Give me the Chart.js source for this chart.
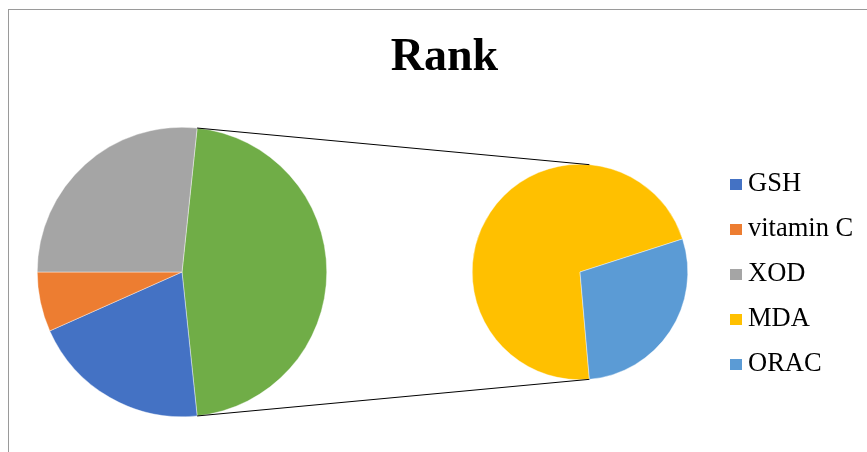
<!DOCTYPE html>
<html>
<head>
<meta charset="utf-8">
<script src="https://cdn.jsdelivr.net/npm/chart.js@4/dist/chart.umd.min.js"></script>
<style>
  html, body { margin: 0; padding: 0; background: #fff; }
  #wrap { position: relative; width: 867px; height: 452px; overflow: hidden; background: #fff; }
  canvas { position: absolute; left: 0; top: 0; }
  #frame { position: absolute; left: 8px; top: 9px; width: 900px; height: 500px;
           border-top: 1px solid #9a9a9a; border-left: 1px solid #9a9a9a; }
  #title { position: absolute; left: 0; width: 889px; top: 28px; text-align: center;
           font: bold 46px "Liberation Serif", "Times New Roman", serif; color: #000; }
  #legend { position: absolute; left: 730px; top: 167px; font: 26.5px "Liberation Serif", "Times New Roman", serif; color: #000; }
  .item { position: relative; height: 45px; line-height: 30px; white-space: nowrap; }
  .sw { position: absolute; left: 0; top: 12px; width: 12px; height: 11px; }
  .lbl { position: absolute; left: 18px; top: 0; }
</style>
</head>
<body>
<div id="wrap">
  <div id="frame"></div>
  <canvas id="mainPie" width="867" height="452"></canvas>
  <canvas id="subPie" width="867" height="452"></canvas>
  <div id="title">Rank</div>
  <div id="legend"></div>
</div>
<script>
// ---- data ----
const categories = ['GSH', 'vitamin C', 'XOD', 'MDA', 'ORAC'];
const rankValues = [3, 1, 4, 5, 2];
const sliceColors = ['#4472C4', '#ED7D31', '#A5A5A5', '#FFC000', '#5B9BD5'];
const otherColor = '#70AD47';
const secondPlotCount = 2; // last 2 categories go to the secondary pie

// ---- derived ----
const firstN = categories.length - secondPlotCount;
const mainLabels = ['Other'].concat(categories.slice(0, firstN));
const subValues = rankValues.slice(firstN);
const mainValues = [subValues.reduce((a, b) => a + b, 0)].concat(rankValues.slice(0, firstN));
const mainColors = [otherColor].concat(sliceColors.slice(0, firstN));
const subLabels = categories.slice(firstN);
const subColors = sliceColors.slice(firstN);

const total = mainValues.reduce((a, b) => a + b, 0);
const otherDeg = mainValues[0] / total * 360;
const mainRotation = 90 - otherDeg / 2;

const baseOpts = {
  responsive: false,
  animation: false,
  events: [],
  plugins: { legend: { display: false }, tooltip: { enabled: false }, title: { display: false } }
};

const mainChart = new Chart(document.getElementById('mainPie'), {
  type: 'pie',
  data: { labels: mainLabels, datasets: [{ data: mainValues, backgroundColor: mainColors,
          borderColor: 'rgba(255,255,255,0.8)', borderWidth: 0.5 }] },
  options: Object.assign({}, baseOpts, {
    rotation: mainRotation,
    layout: { padding: { left: 37, right: 540, top: 127, bottom: 35 } }
  })
});

const connectorPlugin = {
  id: 'connectors',
  afterDraw(chart) {
    const mArc = mainChart.getDatasetMeta(0).data[0];
    const sArc = chart.getDatasetMeta(0).data[0];
    if (!mArc || !sArc) return;
    const ctx = chart.ctx;
    const mr = mArc.outerRadius, sr = sArc.outerRadius;
    const p1 = { x: mArc.x + mr * Math.cos(mArc.startAngle), y: mArc.y + mr * Math.sin(mArc.startAngle) };
    const p2 = { x: mArc.x + mr * Math.cos(mArc.endAngle), y: mArc.y + mr * Math.sin(mArc.endAngle) };
    const a = sArc.startAngle;
    const qBottom = { x: sArc.x + sr * Math.cos(a), y: sArc.y + sr * Math.sin(a) };
    const qTop = { x: qBottom.x, y: sArc.y - sr * Math.sin(a) };
    ctx.save();
    ctx.strokeStyle = '#000';
    ctx.lineWidth = 1;
    ctx.beginPath();
    ctx.moveTo(p1.x, p1.y); ctx.lineTo(qTop.x, qTop.y);
    ctx.moveTo(p2.x, p2.y); ctx.lineTo(qBottom.x, qBottom.y);
    ctx.stroke();
    ctx.restore();
  }
};

const subChart = new Chart(document.getElementById('subPie'), {
  type: 'pie',
  data: { labels: subLabels, datasets: [{ data: subValues, backgroundColor: subColors,
          borderColor: 'rgba(255,255,255,0.8)', borderWidth: 0.5 }] },
  options: Object.assign({}, baseOpts, {
    rotation: 175,
    layout: { padding: { left: 472, right: 179, top: 164, bottom: 72 } }
  }),
  plugins: [connectorPlugin]
});

// ---- legend ----
const legend = document.getElementById('legend');
categories.forEach((c, i) => {
  const it = document.createElement('div');
  it.className = 'item';
  const sw = document.createElement('span');
  sw.className = 'sw';
  sw.style.background = sliceColors[i];
  const lb = document.createElement('span');
  lb.className = 'lbl';
  lb.textContent = c;
  it.appendChild(sw); it.appendChild(lb);
  legend.appendChild(it);
});
</script>
</body>
</html>
